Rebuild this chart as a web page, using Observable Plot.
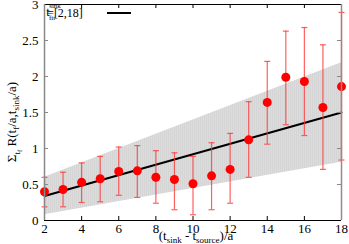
<!DOCTYPE html>
<html>
<head>
<meta charset="utf-8">
<script src="https://cdn.jsdelivr.net/npm/d3@7"></script>
<script src="https://cdn.jsdelivr.net/npm/@observablehq/plot@0.6"></script>
<style>
  body { margin: 0; background: #fff; }
  #chart svg { display: block; }
</style>
</head>
<body>
<div id="chart"></div>
<script>
// ---- data ----
const xVals = [2, 3, 4, 5, 6, 7, 8, 9, 10, 11, 12, 13, 14, 15, 16, 17, 18];
const yVals = [0.40, 0.43, 0.53, 0.58, 0.68, 0.69, 0.60, 0.57, 0.51, 0.62, 0.71, 1.12, 1.64, 1.99, 1.93, 1.57, 1.86];
const yLow  = [0.19, 0.19, 0.25, 0.26, 0.35, 0.32, 0.24, 0.15, 0.08, 0.15, 0.24, 0.60, 1.06, 1.33, 1.18, 0.71, 0.84];
const yHigh = [0.60, 0.67, 0.80, 0.89, 1.02, 1.04, 0.97, 0.94, 0.89, 1.08, 1.21, 1.65, 2.21, 2.63, 2.68, 2.44, 2.89];
const fitX  = [2, 18];
const fitY  = [0.34, 1.50];
const bandLo = [0.08, 0.81];
const bandHi = [0.60, 2.19];
const xTicks = [2, 4, 6, 8, 10, 12, 14, 16, 18];
const yTicks = [0, 0.5, 1, 1.5, 2, 2.5, 3];
const yTickLabels = ["0", "0.5", "1", "1.5", "2", "2.5", "3"];

const points = xVals.map((x, i) => ({x, y: yVals[i], lo: yLow[i], hi: yHigh[i]}));
const fit = fitX.map((x, i) => ({x, y: fitY[i], lo: bandLo[i], hi: bandHi[i]}));

const W = 349, H = 244;
const mL = 44, mR = 8, mT = 4, mB = 24;
const pw = W - mL - mR, ph = H - mT - mB;
const font = "'Liberation Serif', 'DejaVu Serif', serif";
const errColor = "#ff3a3a";

const capSymbol = { draw(ctx, size) { const r = Math.sqrt(size / Math.PI); ctx.moveTo(-r, 0); ctx.lineTo(r, 0); } };

const chart = Plot.plot({
  width: W, height: H,
  marginLeft: mL, marginRight: mR, marginTop: mT, marginBottom: mB,
  style: { fontFamily: font, fontSize: "13px", background: "white", color: "black" },
  x: { domain: [2, 18] },
  y: { domain: [0, 3] },
  marks: [
    Plot.areaY(fit, { x: "x", y1: "lo", y2: "hi", fill: "url(#hatch)" }),
    Plot.lineY(fit, { x: "x", y: "y", stroke: "black", strokeWidth: 2 }),
    Plot.ruleX(points, { x: "x", y1: "lo", y2: "hi", stroke: errColor, strokeWidth: 1.2, strokeOpacity: 0.8 }),
    Plot.dot(points, { x: "x", y: "lo", symbol: capSymbol, r: 3, stroke: errColor, strokeWidth: 1.2, strokeOpacity: 0.8 }),
    Plot.dot(points, { x: "x", y: "hi", symbol: capSymbol, r: 3, stroke: errColor, strokeWidth: 1.2, strokeOpacity: 0.8 }),
    Plot.dot(points, { x: "x", y: "y", r: 4.5, fill: "#ff0000", stroke: "none" }),
    // inward ticks
    Plot.tickX(xTicks, { x: d => d, insetTop: ph - 4, stroke: "black" }),
    Plot.tickX(xTicks, { x: d => d, insetBottom: ph - 4, stroke: "black" }),
    Plot.tickY(yTicks, { y: d => d, insetRight: pw - 4, stroke: "#888" }),
    Plot.tickY(yTicks, { y: d => d, insetLeft: pw - 4, stroke: "#888" }),
    // spines
    Plot.ruleY([0], { stroke: "black", strokeWidth: 1.2 }),
    Plot.ruleY([3], { stroke: "black", strokeWidth: 1.2 }),
    Plot.ruleX([2], { stroke: "#888", strokeWidth: 1.5 }),
    Plot.ruleX([18], { stroke: "#998888", strokeWidth: 1.5 }),
    Plot.axisX(xTicks, { tickSize: 0, tickPadding: 3, fontSize: 13, label: null }),
    Plot.axisY(yTicks, { tickSize: 0, tickPadding: 6, fontSize: 13, label: null, tickFormat: (d, i) => yTickLabels[i] })
  ]
});

const svg = d3.select(chart);
const defs = svg.insert("defs", ":first-child");
const pat = defs.append("pattern").attr("id", "hatch").attr("patternUnits", "userSpaceOnUse")
  .attr("width", 2).attr("height", 6);
pat.append("rect").attr("width", 2).attr("height", 6).attr("fill", "#d5d5d5");
pat.append("rect").attr("x", 1).attr("width", 1).attr("height", 6).attr("fill", "#dcdcdc");

// Legend
const leg = svg.append("g").attr("font-family", font).attr("fill", "black");
leg.append("text").attr("x", 48).attr("y", 16).attr("font-size", 12).text("t");
leg.append("text").attr("x", 52).attr("y", 20).attr("font-size", 7).text("fit");
leg.append("text").attr("x", 55).attr("y", 8).attr("font-size", 7).text("sink");
leg.append("text").attr("x", 65).attr("y", 17).attr("font-size", 12).text("=[2,18]");
leg.append("line").attr("x1", 107).attr("x2", 131).attr("y1", 13).attr("y2", 13)
  .attr("stroke", "black").attr("stroke-width", 2);

// X label
const xl = svg.append("text").attr("x", 196).attr("y", 240).attr("text-anchor", "middle")
  .attr("font-family", font).attr("font-size", 13).attr("fill", "black");
xl.append("tspan").text("(t");
xl.append("tspan").attr("font-size", 9).attr("dy", 3).text("sink");
xl.append("tspan").attr("dy", -3).text(" - t");
xl.append("tspan").attr("font-size", 9).attr("dy", 3).text("source");
xl.append("tspan").attr("dy", -3).text(")/a");

// Y label
const yl = svg.append("text").attr("transform", "translate(16,122) rotate(-90)").attr("text-anchor", "middle")
  .attr("font-family", font).attr("font-size", 13).attr("fill", "black");
yl.append("tspan").text("Σ");
yl.append("tspan").attr("font-size", 9).attr("dy", 4).text("t");
yl.append("tspan").attr("font-size", 7).attr("dy", 2).text("f");
yl.append("tspan").attr("dy", -6).text(" R(t");
yl.append("tspan").attr("font-size", 9).attr("dy", 3).text("f");
yl.append("tspan").attr("dy", -3).text("/a,t");
yl.append("tspan").attr("font-size", 9).attr("dy", 3).text("sink");
yl.append("tspan").attr("dy", -3).text("/a)");

document.getElementById("chart").appendChild(chart);
</script>
</body>
</html>
